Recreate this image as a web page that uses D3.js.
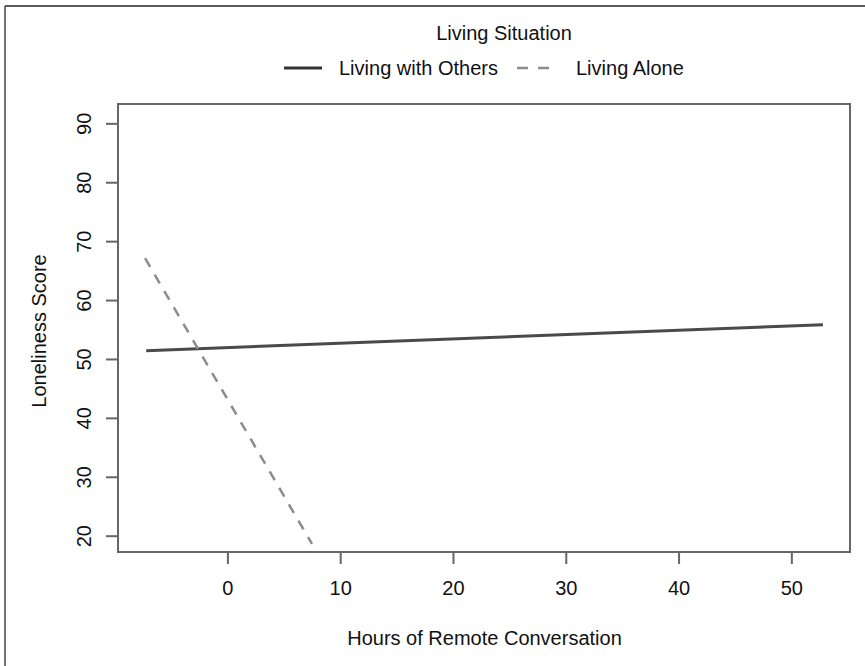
<!DOCTYPE html>
<html><head><meta charset="utf-8">
<script src="https://cdn.jsdelivr.net/npm/d3@7"></script>
<style>
body{margin:0;background:#fff}
svg text{font-family:"Liberation Sans",Arial,Helvetica,sans-serif;fill:#111}
</style>
</head><body><svg id="c" width="865" height="666"></svg>
<script>
// ---- data ----
const xTicks = [0, 10, 20, 30, 40, 50];
const yTicks = [20, 30, 40, 50, 60, 70, 80, 90];
const seriesNames = ["Living with Others", "Living Alone"];
const othersX = [-7.2, 52.8];
const othersY = [51.4, 55.8];
const aloneX = [-7.3, 7.5];
const aloneY = [67.1, 18.6];
const legendTitle = "Living Situation";
const xTitle = "Hours of Remote Conversation";
const yTitle = "Loneliness Score";

// ---- layout ----
const svg = d3.select("#c");
const L = 118, R = 850, T = 104, B = 552;
const x = d3.scaleLinear().domain([-9.7, 55.2]).range([L, R]);
const y = d3.scaleLinear().domain([17.23, 93.28]).range([B, T]);
const FS = 20;

// outer frame (top and left edges only visible)
svg.append("line").attr("x1", 5).attr("x2", 865).attr("y1", 6).attr("y2", 6)
  .attr("stroke", "#222").attr("stroke-width", 1.5);
svg.append("line").attr("x1", 5).attr("x2", 5).attr("y1", 6).attr("y2", 666)
  .attr("stroke", "#444").attr("stroke-width", 1.5);

const axisColor = "#666";

// x axis
const gx = svg.append("g").attr("transform", `translate(0,${B})`)
  .call(d3.axisBottom(x).tickValues(xTicks).tickSize(12).tickPadding(12).tickFormat(d3.format("d")));
gx.select(".domain").remove();
gx.selectAll(".tick line").attr("stroke", axisColor).attr("stroke-width", 2);
gx.selectAll(".tick text").attr("font-size", FS).attr("dy", 0).attr("y", 43).attr("fill", "#111")
  .style("font-family", '"Liberation Sans",Arial,sans-serif');

// y axis
const gy = svg.append("g").attr("transform", `translate(${L},0)`)
  .call(d3.axisLeft(y).tickValues(yTicks).tickSize(12).tickFormat(d3.format("d")));
gy.select(".domain").remove();
gy.selectAll(".tick line").attr("stroke", axisColor).attr("stroke-width", 2);
gy.selectAll(".tick text").attr("font-size", FS).attr("transform", "rotate(-90)")
  .attr("x", 0).attr("y", -27).attr("dy", 0).attr("text-anchor", "middle").attr("fill", "#111")
  .style("font-family", '"Liberation Sans",Arial,sans-serif');

// plot box
svg.append("rect").attr("x", L).attr("y", T).attr("width", R - L).attr("height", B - T)
  .attr("fill", "none").attr("stroke", axisColor).attr("stroke-width", 2);

// lines
const line = d3.line().x(d => x(d[0])).y(d => y(d[1]));
svg.append("path").datum(d3.zip(othersX, othersY)).attr("d", line)
  .attr("fill", "none").attr("stroke", "#4a4a4a").attr("stroke-width", 3);
svg.append("path").datum(d3.zip(aloneX, aloneY)).attr("d", line)
  .attr("fill", "none").attr("stroke", "#8c8c8c").attr("stroke-width", 2.5)
  .attr("stroke-dasharray", "10,9");

// axis titles
svg.append("text").attr("x", (L + R) / 2 + 0.5).attr("y", 645).attr("text-anchor", "middle")
  .attr("font-size", FS).text(xTitle);
svg.append("text").attr("transform", `translate(46,${(T + B) / 2 + 3}) rotate(-90)`)
  .attr("text-anchor", "middle").attr("font-size", FS).text(yTitle);

// legend
svg.append("text").attr("x", 504).attr("y", 40).attr("text-anchor", "middle")
  .attr("font-size", FS).text(legendTitle);
const lg = svg.append("g");
lg.append("line").attr("x1", 284).attr("x2", 322).attr("y1", 68).attr("y2", 68)
  .attr("stroke", "#333").attr("stroke-width", 3);
lg.append("text").attr("x", 339).attr("y", 75).attr("font-size", FS).text(seriesNames[0]);
lg.append("line").attr("x1", 517).attr("x2", 549).attr("y1", 68).attr("y2", 68)
  .attr("stroke", "#8c8c8c").attr("stroke-width", 2.5).attr("stroke-dasharray", "11,10");
lg.append("text").attr("x", 576).attr("y", 75).attr("font-size", FS).text(seriesNames[1]);
</script>
</body></html>
